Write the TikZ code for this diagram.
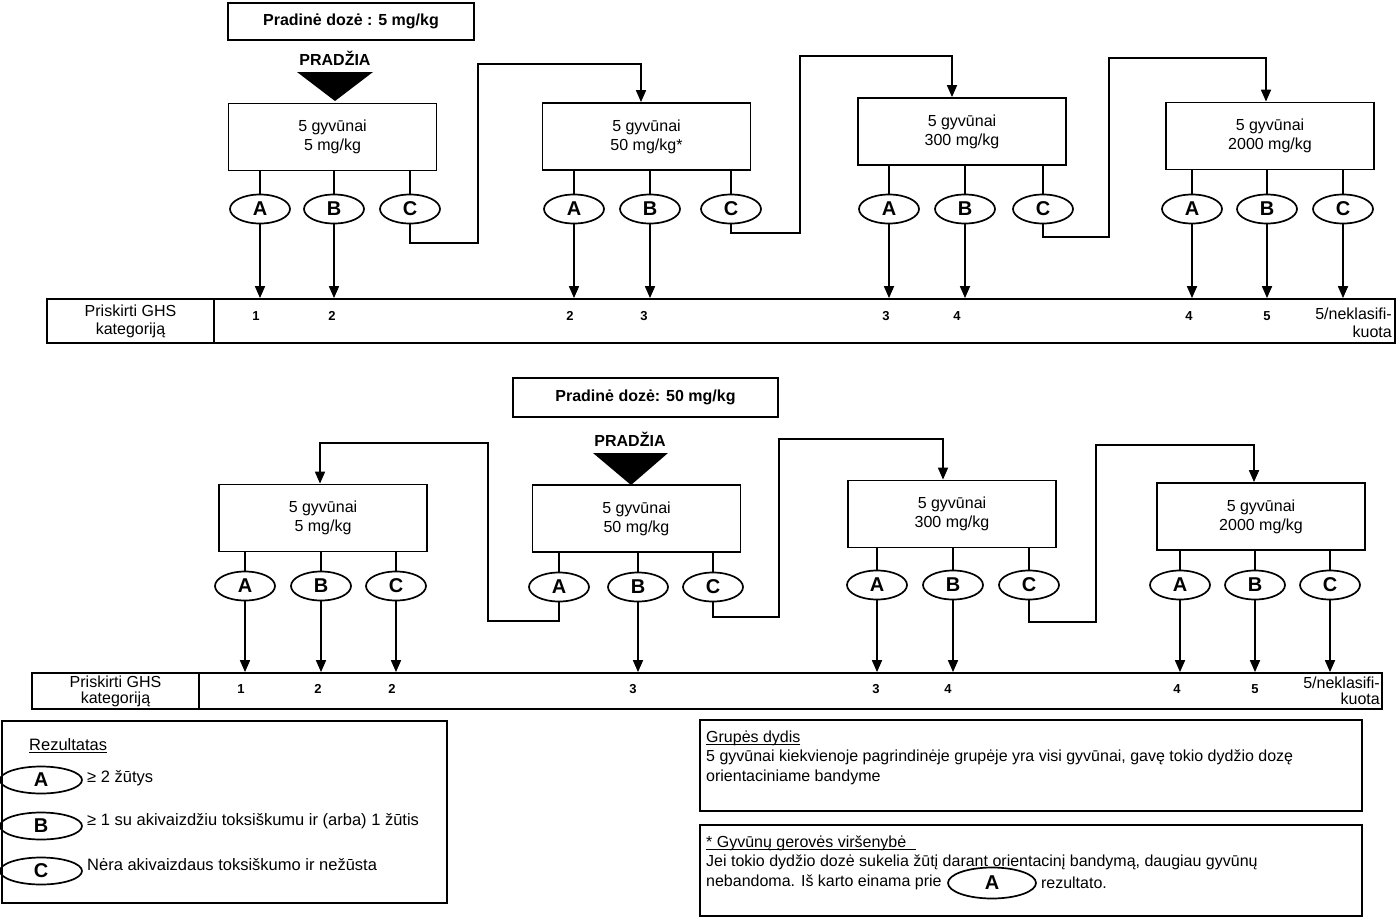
\documentclass[tikz,border=0pt]{standalone}
\usepackage{fontspec}
\setmainfont{Liberation Sans}
\usetikzlibrary{shapes.geometric,arrows.meta,positioning}
\newcommand\undertext[1]{\setbox0=\hbox{#1}\rlap{\rule[-2.2pt]{\wd0}{0.9pt}}\box0}

\begin{document}
\begin{tikzpicture}[
      x=1pt, y=-1pt,
      group/.style={
        rectangle,
        draw, line width=1.8pt,
        minimum width=208pt,
        minimum height=67pt,
        align=center,
        font=\fontsize{16}{19}\selectfont
      },
      result/.style={
        ellipse,
        draw, line width=1.7pt,
        minimum width=60pt,
        minimum height=29pt,
        inner sep=0pt,
        font=\bfseries\fontsize{20}{20}\selectfont
      },
      startdose/.style={
        rectangle,
        draw, line width=1.8pt,
        font=\bfseries\fontsize{16}{19}\selectfont
      },
      startlabel/.style={font=\bfseries\fontsize{16}{19}\selectfont},
      catbar/.style={rectangle, draw, line width=1.8pt},
      catlabel/.style={align=center, inner sep=0pt},
      cat/.style={font=\bfseries\fontsize{13}{15}\selectfont},
      panel/.style={rectangle, draw, line width=1.8pt},
      note/.style={inner sep=0pt, align=left, font=\fontsize{16}{19.5}\selectfont},
      arrow/.style={
        -{Triangle[length=12pt,width=10pt]},
        line width=1.7pt
      },
      link/.style={line width=1.7pt}
    ]
      \useasboundingbox (0,0) rectangle (1398,919);

      % starting dose 5 mg/kg
      \node[startdose, minimum width=246pt, minimum height=37pt] (dose1) at (351,21.5) {Pradinė dozė : 5 mg/kg};
      \node[startlabel] (start1) at (335,58) {PRADŽIA};
      \fill (297,72) -- (373,72) -- (335,101) -- cycle;

      \node[group] (t1) at (332.5,137) {5 gyvūnai\\5 mg/kg};
      \node[group] (t2) at (646.5,136.5) {5 gyvūnai\\50 mg/kg*};
      \node[group] (t3) at (962,131.5) {5 gyvūnai\\300 mg/kg};
      \node[group] (t4) at (1270,136) {5 gyvūnai\\2000 mg/kg};

      \node[result] (t1A) at (260,209) {A};
      \node[result] (t1B) at (334,209) {B};
      \node[result] (t1C) at (410,209) {C};
      \node[result] (t2A) at (574,209) {A};
      \node[result] (t2B) at (650,209) {B};
      \node[result] (t2C) at (731,209) {C};
      \node[result] (t3A) at (889,209) {A};
      \node[result] (t3B) at (965,209) {B};
      \node[result] (t3C) at (1043,209) {C};
      \node[result] (t4A) at (1192,209) {A};
      \node[result] (t4B) at (1267,209) {B};
      \node[result] (t4C) at (1343,209) {C};

      \node[catbar, minimum width=1348pt, minimum height=44pt] (bar1) at (721,321) {};
      \node[catbar, minimum width=167pt, minimum height=44pt] (lab1) at (130.5,321) {};
      \node[catlabel, font=\fontsize{16}{18}\selectfont] at (lab1) {Priskirti GHS\\kategoriją};

      \foreach \g in {t1,t2,t3,t4}
        \foreach \r in {A,B,C}
          \draw[link] (\g\r) -- (\g\r |- \g.south);

      \foreach \e in {t1A,t1B,t2A,t2B,t3A,t3B,t4A,t4B,t4C}
        \draw[arrow] (\e) -- (\e |- bar1.north);

      \foreach \x/\v [count=\i] in {256/1,332/2,570/2,644/3,886/3,957/4,1189/4,1267/5}
        \node[cat] (c\i) at (\x,316) {\v};
      \node[catlabel, anchor=east, align=right, font=\fontsize{16}{18}\selectfont] (c9) at (1392,323) {5/neklasifi-\\kuota};

      \draw[arrow] (t1C) |- (478,243) |- (641,64) -- ([xshift=-5.5pt]t2.north);
      \draw[arrow] (t2C) |- (800,233) |- (952,56) -- ([xshift=-10pt]t3.north);
      \draw[arrow] (t3C) |- (1109,237) |- (1266,58) -- ([xshift=-4pt]t4.north);

      % starting dose 50 mg/kg
      \node[startdose, minimum width=265pt, minimum height=39pt] (dose2) at (645.5,397.5) {Pradinė dozė: 50 mg/kg};
      \node[startlabel] (start2) at (630,439) {PRADŽIA};
      \fill (593,453) -- (668,453) -- (631,485) -- cycle;

      \node[group] (b1) at (323,518) {5 gyvūnai\\5 mg/kg};
      \node[group] (b2) at (636.5,518.5) {5 gyvūnai\\50 mg/kg};
      \node[group] (b3) at (952,514) {5 gyvūnai\\300 mg/kg};
      \node[group] (b4) at (1261,516.5) {5 gyvūnai\\2000 mg/kg};

      \node[result] (b1A) at (245,586) {A};
      \node[result] (b1B) at (321,586) {B};
      \node[result] (b1C) at (396,586) {C};
      \node[result] (b2A) at (559,587) {A};
      \node[result] (b2B) at (638,587) {B};
      \node[result] (b2C) at (713,587) {C};
      \node[result] (b3A) at (877,585) {A};
      \node[result] (b3B) at (953,585) {B};
      \node[result] (b3C) at (1029,585) {C};
      \node[result] (b4A) at (1180,585) {A};
      \node[result] (b4B) at (1255,585) {B};
      \node[result] (b4C) at (1330,585) {C};

      \node[catbar, minimum width=1350pt, minimum height=36pt] (bar2) at (707,691) {};
      \node[catbar, minimum width=167pt, minimum height=36pt] (lab2) at (115.5,691) {};
      \node[catlabel, font=\fontsize{16}{16}\selectfont] at (lab2) {Priskirti GHS\\kategoriją};

      \foreach \g in {b1,b2,b3,b4}
        \foreach \r in {A,B,C}
          \draw[link] (\g\r) -- (\g\r |- \g.south);

      \foreach \e in {b1A,b1B,b1C,b2B,b3A,b3B,b4A,b4B,b4C}
        \draw[arrow] (\e) -- (\e |- bar2.north);

      \foreach \x/\v [count=\i] in {241/1,318/2,392/2,633/3,876/3,948/4,1177/4,1255/5}
        \node[cat] (d\i) at (\x,689) {\v};
      \node[catlabel, anchor=east, align=right, font=\fontsize{16}{16}\selectfont] (d9) at (1380,691) {5/neklasifi-\\kuota};

      \draw[arrow] (b2A) |- (488,621) |- (320,443) -- ([xshift=-3pt]b1.north);
      \draw[arrow] (b2C) |- (779,617) |- (943,439) -- ([xshift=-9pt]b3.north);
      \draw[arrow] (b3C) |- (1096,622) |- (1254,445) -- ([xshift=-7pt]b4.north);

      % legend
      \node[panel, minimum width=445pt, minimum height=182pt] (legend) at (224.5,812) {};
      \node[note, anchor=west, font=\fontsize{16.5}{19}\selectfont] (rez) at (29,746) {\undertext{Rezultatas}};
      \node[result, minimum width=82pt, minimum height=27pt] (kA) at (41,780) {A};
      \node[result, minimum width=82pt, minimum height=27pt] (kB) at (41,826) {B};
      \node[result, minimum width=82pt, minimum height=27pt] (kC) at (41,871) {C};
      \node[note, anchor=west, font=\fontsize{16.5}{19}\selectfont] (kAt) at (87,778) {≥ 2 žūtys};
      \node[note, anchor=west, font=\fontsize{16.5}{19}\selectfont] (kBt) at (87,821) {≥ 1 su akivaizdžiu toksiškumu ir (arba) 1 žūtis};
      \node[note, anchor=west, font=\fontsize{16.5}{19}\selectfont] (kCt) at (87,865) {Nėra akivaizdaus toksiškumo ir nežūsta};

      \node[panel, minimum width=662pt, minimum height=91pt] (size) at (1031,765.5) {};
      \node[note, anchor=north west] (sizet) at (706,730.5) {\undertext{Grupės dydis}\\5 gyvūnai kiekvienoje pagrindinėje grupėje yra visi gyvūnai, gavę tokio dydžio dozę\\orientaciniame bandyme};

      \node[panel, minimum width=662pt, minimum height=91pt] (welfare) at (1031,870.5) {};
      \node[note, anchor=north west] (welfaret) at (706,835.5) {\undertext{* Gyvūnų gerovės viršenybė\hspace{10pt}}\\Jei tokio dydžio dozė sukelia žūtį darant orientacinį bandymą, daugiau gyvūnų};
      \node[note, anchor=base west] (welfare3) at (706,886) {nebandoma. Iš karto einama prie};
      \node[result, minimum width=88pt, minimum height=31pt] (wA) at (992,883) {A};
      \node[note, right=4pt of wA] (welfare4) {rezultato.};
    \end{tikzpicture}
\end{document}
